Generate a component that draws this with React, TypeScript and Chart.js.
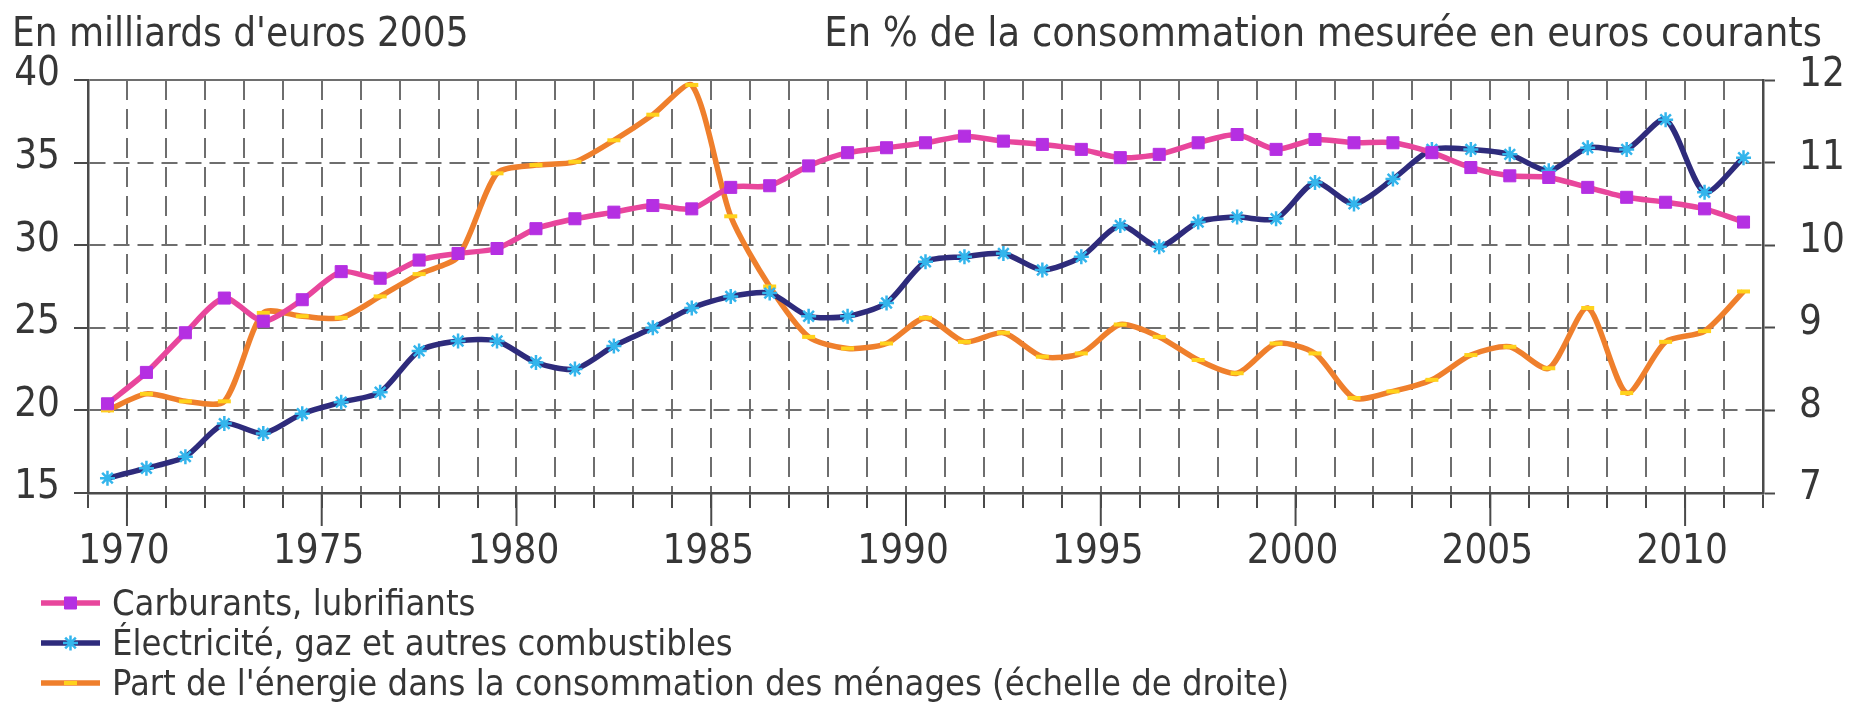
import React, { useEffect, useRef } from 'react';
import { Chart, registerables } from 'chart.js';
import { drawPoint } from 'chart.js/helpers';

Chart.register(...registerables);

// ---------- data ----------
const years = [
  1970, 1971, 1972, 1973, 1974, 1975, 1976, 1977, 1978, 1979,
  1980, 1981, 1982, 1983, 1984, 1985, 1986, 1987, 1988, 1989,
  1990, 1991, 1992, 1993, 1994, 1995, 1996, 1997, 1998, 1999,
  2000, 2001, 2002, 2003, 2004, 2005, 2006, 2007, 2008, 2009,
  2010, 2011, 2012,
];

const carburants = [
  20.4, 22.3, 24.7, 26.8, 25.4, 26.7, 28.4, 28.0, 29.1, 29.5,
  29.8, 31.0, 31.6, 32.0, 32.4, 32.2, 33.5, 33.6, 34.8, 35.6,
  35.9, 36.2, 36.6, 36.3, 36.1, 35.8, 35.3, 35.5, 36.2, 36.7,
  35.8, 36.4, 36.2, 36.2, 35.6, 34.7, 34.2, 34.1, 33.5, 32.9,
  32.6, 32.2, 31.4,
];

const electricite = [
  15.9, 16.5, 17.2, 19.2, 18.6, 19.8, 20.5, 21.1, 23.6, 24.2,
  24.2, 22.9, 22.5, 23.9, 25.0, 26.2, 26.9, 27.1, 25.7, 25.7,
  26.5, 29.0, 29.3, 29.5, 28.5, 29.3, 31.2, 29.9, 31.4, 31.7,
  31.6, 33.8, 32.5, 34.0, 35.8, 35.8, 35.5, 34.5, 35.9, 35.8,
  37.6, 33.2, 35.3,
];

const partEnergie = [
  8.0, 8.2, 8.11, 8.11, 9.18, 9.14, 9.12, 9.38, 9.65, 9.86,
  10.87, 10.97, 11.01, 11.27, 11.58, 11.94, 10.35, 9.5, 8.89, 8.75,
  8.81, 9.12, 8.83, 8.94, 8.65, 8.69, 9.04, 8.89, 8.61, 8.45,
  8.81, 8.69, 8.15, 8.23, 8.37, 8.67, 8.77, 8.51, 9.24, 8.21,
  8.83, 8.96, 9.44,
];

const xTickLabels = ['1970', '1975', '1980', '1985', '1990', '1995', '2000', '2005', '2010'];
const leftTicks = [15, 20, 25, 30, 35, 40];
const rightTicks = [7, 8, 9, 10, 11, 12];

const seriesLabels = [
  'Carburants, lubrifiants',
  'Électricité, gaz et autres combustibles',
  "Part de l'énergie dans la consommation des ménages (échelle de droite)",
];
const leftTitle = "En milliards d'euros 2005";
const rightTitle = 'En % de la consommation mesurée en euros courants';

// ---------- styles ----------
const FONT = "'DejaVu Sans Condensed', 'Liberation Sans Narrow', sans-serif";
const TEXT = '#363636';
const GRID = '#6e6e6e';
const AXIS = '#4a4a4a';
const W = 1849;
const H = 707;

const boundaries = [...years.map((y) => y - 0.5), years[years.length - 1] + 0.5];
const boundaryLabel = (v: number) => {
  const s = String(Math.round(v - 0.5));
  return xTickLabels.includes(s) ? s : '';
};

const decorPlugin = {
  id: 'decor',
  afterDraw(chart: any) {
    const { ctx } = chart;
    ctx.save();
    // long tick marks under labelled years
    const xs = chart.scales.x;
    ctx.strokeStyle = AXIS;
    ctx.lineWidth = 2;
    xs.ticks.forEach((t: any) => {
      if (boundaryLabel(t.value)) {
        const px = xs.getPixelForValue(t.value);
        ctx.beginPath();
        ctx.moveTo(px, xs.top);
        ctx.lineTo(px, xs.top + 33);
        ctx.stroke();
      }
    });
    // titles
    ctx.fillStyle = TEXT;
    ctx.textBaseline = 'alphabetic';
    ctx.font = `40px ${FONT}`;
    ctx.textAlign = 'left';
    ctx.fillText(leftTitle, 12, 46);
    ctx.font = `41px ${FONT}`;
    ctx.textAlign = 'right';
    ctx.fillText(rightTitle, 1822, 46);
    // legend
    chart.data.datasets.forEach((ds: any, i: number) => {
      const base = 615 + i * 40;
      const cy = base - 12;
      ctx.strokeStyle = ds.borderColor;
      ctx.lineWidth = ds.borderWidth;
      ctx.beginPath();
      ctx.moveTo(41, cy);
      ctx.lineTo(100, cy);
      ctx.stroke();
      ctx.fillStyle = ds.pointBackgroundColor;
      ctx.strokeStyle = ds.pointBorderColor;
      ctx.lineWidth = ds.pointBorderWidth;
      drawPoint(ctx, { pointStyle: ds.pointStyle, radius: ds.pointRadius, rotation: 0, borderWidth: ds.pointBorderWidth }, 70.5, cy);
      ctx.fillStyle = TEXT;
      ctx.textAlign = 'left';
      ctx.font = `36px ${FONT}`;
      ctx.fillText(ds.label, 112, base);
    });
    ctx.restore();
  },
};

const solidAt = (vals: number[], dash: number[]) => (c: any) =>
  c.tick && vals.includes(c.tick.value) ? [] : dash;

export default function App() {
  const ref = useRef<HTMLCanvasElement>(null);
  useEffect(() => {
    const chart = new Chart(ref.current as HTMLCanvasElement, {
      type: 'line',
      data: {
        datasets: [
          {
            label: seriesLabels[0],
            data: years.map((y, i) => ({ x: y, y: carburants[i] })),
            yAxisID: 'y',
            borderColor: '#E8469C',
            borderWidth: 5.5,
            pointStyle: 'rect',
            pointRadius: 8.5,
            pointBackgroundColor: '#B52FE2',
            pointBorderColor: '#B52FE2',
            pointBorderWidth: 1,
            tension: 0.25,
          },
          {
            label: seriesLabels[1],
            data: years.map((y, i) => ({ x: y, y: electricite[i] })),
            yAxisID: 'y',
            borderColor: '#2E2B7C',
            borderWidth: 5.5,
            pointStyle: 'star',
            pointRadius: 7.5,
            pointBackgroundColor: '#33B5EC',
            pointBorderColor: '#33B5EC',
            pointBorderWidth: 2.5,
            tension: 0.25,
          },
          {
            label: seriesLabels[2],
            data: years.map((y, i) => ({ x: y, y: partEnergie[i] })),
            yAxisID: 'y1',
            borderColor: '#EF7F2C',
            borderWidth: 5.5,
            pointStyle: 'line',
            pointRadius: 6.5,
            pointBackgroundColor: '#FFD21C',
            pointBorderColor: '#FFD21C',
            pointBorderWidth: 4,
            tension: 0.25,
          },
        ],
      } as any,
      options: {
        responsive: false,
        animation: false,
        layout: { padding: { top: 80, left: 0, right: 0, bottom: 0 } },
        plugins: { legend: { display: false }, tooltip: { enabled: false } },
        scales: {
          x: {
            type: 'linear',
            min: boundaries[0],
            max: boundaries[boundaries.length - 1],
            afterBuildTicks: (s: any) => {
              s.ticks = boundaries.map((v) => ({ value: v }));
            },
            afterFit: (s: any) => {
              s.height = H - 493;
            },
            grid: { color: GRID, lineWidth: 2, tickLength: 15, tickColor: AXIS, tickWidth: 2 },
            border: { display: true, color: AXIS, width: 2.5, dash: solidAt([boundaries[0], boundaries[boundaries.length - 1]], [20, 9]) },
            ticks: {
              autoSkip: false,
              maxRotation: 0,
              padding: 21,
              labelOffset: -3,
              color: TEXT,
              font: { size: 40, family: FONT },
              callback: (v: any) => boundaryLabel(Number(v)),
            },
          },
          y: {
            type: 'linear',
            position: 'left',
            min: 15,
            max: 40,
            afterBuildTicks: (s: any) => {
              s.ticks = leftTicks.map((v) => ({ value: v }));
            },
            afterFit: (s: any) => {
              s.width = 88;
            },
            grid: { color: GRID, lineWidth: 2, tickLength: 14, tickColor: AXIS, tickWidth: 2 },
            border: { display: true, color: AXIS, width: 2.5, dash: solidAt([15, 40], [16, 8]) },
            ticks: { padding: 14, labelOffset: -5, color: TEXT, font: { size: 40, family: FONT } },
          },
          y1: {
            type: 'linear',
            position: 'right',
            min: 7,
            max: 12,
            afterBuildTicks: (s: any) => {
              s.ticks = rightTicks.map((v) => ({ value: v }));
            },
            afterFit: (s: any) => {
              s.width = W - 1763;
            },
            grid: { drawOnChartArea: false, tickLength: 12, tickColor: AXIS, tickWidth: 2 },
            border: { display: true, color: AXIS, width: 2.5 },
            ticks: { padding: 24, labelOffset: -4, color: TEXT, font: { size: 40, family: FONT } },
          },
        },
      } as any,
      plugins: [decorPlugin],
    });
    return () => chart.destroy();
  }, []);
  return (
    <canvas
      ref={ref}
      width={W}
      height={H}
      style={{ position: 'fixed', left: 0, top: 0, display: 'block', background: '#fff' }}
    />
  );
}
